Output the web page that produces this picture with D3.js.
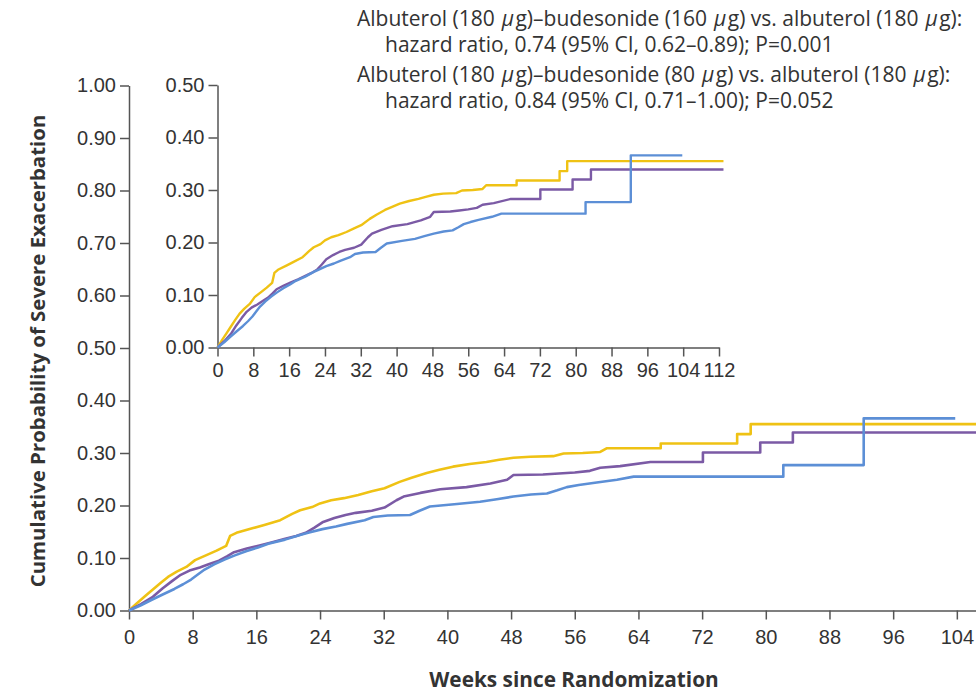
<!DOCTYPE html>
<html>
<head>
<meta charset="utf-8">
<script src="https://cdn.jsdelivr.net/npm/d3@7/dist/d3.min.js"></script>
<style>
  body { margin: 0; background: #fff; }
  svg { font-family: "Open Sans", sans-serif; }
  .axis text { fill: #333; }
  .axis path, .axis line { stroke: #555; stroke-width: 1.5; }
</style>
</head>
<body>
<svg id="chart" width="976" height="694"></svg>
<script>
// cumulative probability of severe exacerbation, [week, probability]
const bud160 = [
  [0, 0], [1, 0.014], [2, 0.027], [3, 0.040], [4, 0.053], [4.9, 0.064], [6, 0.074],
  [7.2, 0.083], [8.3, 0.096], [9.8, 0.106], [11, 0.114], [12.2, 0.123], [12.7, 0.142],
  [13.5, 0.148], [15.6, 0.157], [17, 0.163], [19, 0.172], [20.5, 0.184], [21.5, 0.191],
  [23, 0.197], [24, 0.204], [25.4, 0.210], [27, 0.214], [28.8, 0.220], [30.5, 0.227],
  [32.1, 0.233], [34, 0.245], [35.5, 0.253], [37.4, 0.262], [39, 0.268], [40.7, 0.274],
  [42.8, 0.279], [44.9, 0.283], [46.5, 0.287], [48.3, 0.291], [50.4, 0.293], [53.3, 0.294],
  [54.6, 0.299], [57, 0.300], [59.2, 0.302], [60, 0.309], [66.8, 0.309], [66.8, 0.318],
  [76.4, 0.318], [76.4, 0.336], [78.1, 0.336], [78.1, 0.355], [113, 0.355]
];
const bud80 = [
  [0, 0], [1.5, 0.012], [3, 0.026], [4.2, 0.042], [5.4, 0.056], [6.5, 0.068], [7.6, 0.076],
  [8.9, 0.082], [10, 0.088], [11.3, 0.095], [12.3, 0.103], [13.2, 0.111], [14.8, 0.118],
  [16.4, 0.124], [18, 0.130], [19.5, 0.136], [21, 0.142], [22.2, 0.148], [23.3, 0.158],
  [24.3, 0.168], [25.8, 0.176], [27.2, 0.182], [28.5, 0.186], [30.5, 0.190], [32.1, 0.196],
  [33.6, 0.210], [34.5, 0.217], [36.6, 0.224], [39.1, 0.231], [42.4, 0.235], [45.4, 0.242],
  [47.5, 0.249], [48.3, 0.258], [52, 0.259], [54, 0.261], [56, 0.263], [57.9, 0.266],
  [59.2, 0.272], [61.7, 0.275], [65.5, 0.283], [72.1, 0.283], [72.1, 0.301], [79.3, 0.301],
  [79.3, 0.320], [83.4, 0.320], [83.4, 0.339], [113, 0.339]
];
const albuterol = [
  [0, 0], [1.5, 0.010], [2.8, 0.020], [4.3, 0.031], [5.7, 0.041], [6.8, 0.050], [7.8, 0.059],
  [8.6, 0.068], [9.5, 0.078], [10.7, 0.088], [12, 0.097], [13.3, 0.105], [14.7, 0.113],
  [16.2, 0.120], [17.5, 0.127], [19.6, 0.135], [21.5, 0.144], [22.5, 0.148], [24.3, 0.155],
  [26, 0.160], [27.4, 0.165], [29.6, 0.172], [30.7, 0.178], [32.5, 0.181], [35.3, 0.182],
  [36.5, 0.190], [37.8, 0.198], [41.2, 0.203], [44.1, 0.207], [46.2, 0.212], [48.3, 0.217],
  [50.5, 0.221], [52.5, 0.223], [53.8, 0.229], [55, 0.235], [56.5, 0.239], [58.3, 0.243],
  [61.3, 0.249], [63.4, 0.255], [82.2, 0.255], [82.2, 0.277], [92.3, 0.277], [92.3, 0.366],
  [103.8, 0.366]
];

const mainXTicks = d3.range(0, 105, 8);
const insetXTicks = d3.range(0, 113, 8);
const mainYTicks = d3.range(0, 1.001, 0.1);
const insetYTicks = d3.range(0, 0.501, 0.1);

const notes = [
  ["Albuterol (180 ", "μ", "g)\u2013budesonide (160 ", "μ", "g) vs. albuterol (180 ", "μ", "g):"],
  ["hazard ratio, 0.74 (95% CI, 0.62\u20130.89); P=0.001"],
  ["Albuterol (180 ", "μ", "g)\u2013budesonide (80 ", "μ", "g) vs. albuterol (180 ", "μ", "g):"],
  ["hazard ratio, 0.84 (95% CI, 0.71\u20131.00); P=0.052"]
];

const series = [
  {data: bud160, color: "#efc214"},
  {data: bud80, color: "#7b5aa5"},
  {data: albuterol, color: "#5c8fd6"}
];

const svg = d3.select("#chart");
const fmt = d3.format(".2f");

// main panel
const x = d3.scaleLinear().domain([0, 112]).range([129, 129 + 112 * 7.96]);
const y = d3.scaleLinear().domain([0, 1]).range([610.5, 85.5]);

// inset panel
const xi = d3.scaleLinear().domain([0, 112]).range([217.5, 719]);
const yi = d3.scaleLinear().domain([0, 0.5]).range([347.5, 85]);

function drawAxes(xs, ys, xt, yt, xPad) {
  svg.append("g").attr("class", "axis")
    .attr("transform", "translate(0," + ys(0) + ")")
    .call(d3.axisBottom(xs).tickValues(xt).tickSize(9).tickSizeOuter(0).tickPadding(xPad))
    .selectAll("text").style("font-size", "20px");
  svg.append("g").attr("class", "axis")
    .attr("transform", "translate(" + xs(0) + ",0)")
    .call(d3.axisLeft(ys).tickValues(yt).tickFormat(fmt).tickSize(9).tickSizeOuter(0).tickPadding(4))
    .selectAll("text").style("font-size", "20px");
}

drawAxes(x, y, mainXTicks, mainYTicks, 10);
drawAxes(xi, yi, insetXTicks, insetYTicks, 6);

function drawLines(xs, ys, w) {
  const line = d3.line().x(d => xs(d[0])).y(d => ys(d[1]));
  svg.append("g").selectAll("path")
    .data(series)
    .enter().append("path")
    .attr("d", d => line(d.data))
    .attr("fill", "none")
    .attr("stroke", d => d.color)
    .attr("stroke-width", w)
    .attr("stroke-linejoin", "round");
}

drawLines(x, y, 2.6);
drawLines(xi, yi, 2.4);

// titles
svg.append("text")
  .attr("x", 574).attr("y", 687)
  .attr("text-anchor", "middle")
  .style("font-size", "20.8px").style("font-weight", "bold").style("fill", "#333")
  .text("Weeks since Randomization");

svg.append("text")
  .attr("transform", "translate(45,351) rotate(-90)")
  .attr("text-anchor", "middle")
  .style("font-size", "20.4px").style("font-weight", "bold").style("fill", "#333")
  .text("Cumulative Probability of Severe Exacerbation");

// hazard ratio notes (italic mu gets a hair of room so glyphs don't collide)
const noteX = [357, 385, 357, 385];
const noteY = [26, 52, 82, 108];
notes.forEach((parts, i) => {
  const t = svg.append("text")
    .attr("x", noteX[i]).attr("y", noteY[i])
    .style("font-size", "21px").style("fill", "#333");
  parts.forEach((p, j) => {
    const italic = p === "μ";
    const afterItalic = j > 0 && parts[j - 1] === "μ";
    t.append("tspan")
      .attr("dx", italic || afterItalic ? 1.5 : 0)
      .style("font-style", italic ? "italic" : "normal")
      .text(p);
  });
});
</script>
</body>
</html>
